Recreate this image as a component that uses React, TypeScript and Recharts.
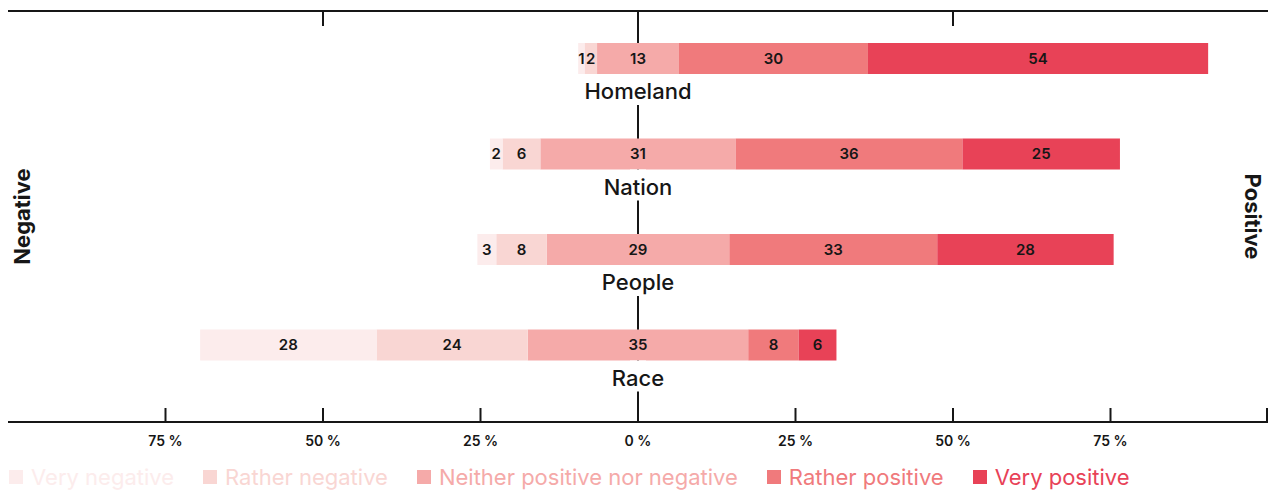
import React from "react";
import { BarChart, Bar, XAxis, YAxis, ReferenceLine, LabelList } from "recharts";

const categories = ["Homeland", "Nation", "People", "Race"];
const veryNegative = [1, 2, 3, 28];
const ratherNegative = [2, 6, 8, 24];
const neutral = [13, 31, 29, 35];
const ratherPositive = [30, 36, 33, 8];
const veryPositive = [54, 25, 28, 6];

const axisTicks = [-100, -75, -50, -25, 0, 25, 50, 75, 100];
const topTicks = [-50, 0, 50];

const FONT = "Inter, 'Noto Sans', sans-serif";
const INK = "#161616";

const COLORS = {
  veryNeg: "#fcecec",
  ratherNeg: "#f9d6d3",
  neutral: "#f5aaa9",
  ratherPos: "#f07a7c",
  veryPos: "#e84257",
};

const legendItems = [
  { label: "Very negative", color: COLORS.veryNeg },
  { label: "Rather negative", color: COLORS.ratherNeg },
  { label: "Neither positive nor negative", color: COLORS.neutral },
  { label: "Rather positive", color: COLORS.ratherPos },
  { label: "Very positive", color: COLORS.veryPos },
];

// neutral share is split evenly around zero so the bars diverge from the centre line
const rows = categories.map((category, i) => ({
  category,
  neutralNeg: -neutral[i] / 2,
  ratherNeg: -ratherNegative[i],
  veryNeg: -veryNegative[i],
  neutralPos: neutral[i] / 2,
  ratherPos: ratherPositive[i],
  veryPos: veryPositive[i],
}));

function box(props: any) {
  const vb = props.viewBox ?? props;
  return { x: Number(vb.x), y: Number(vb.y), width: Number(vb.width), height: Number(vb.height) };
}

const segmentLabel = (values: number[]) => (props: any) => {
  const { x, y, width, height } = box(props);
  const v = values[props.index];
  return (
    <text
      x={x + width / 2}
      y={y + height / 2}
      dy={5}
      textAnchor="middle"
      fontFamily={FONT}
      fontSize={15}
      fontWeight={600}
      fill={INK}
    >
      {v}
    </text>
  );
};

// neutral value sits on the zero line, with the category name under the bar
const neutralLabel = (props: any) => {
  const { x, y, height } = box(props);
  const i = props.index;
  return (
    <g>
      <text x={x} y={y + height / 2} dy={5} textAnchor="middle" fontFamily={FONT} fontSize={15} fontWeight={600} fill={INK}>
        {neutral[i]}
      </text>
      <rect x={x - 8} y={y + height} width={16} height={31} fill="#fff" />
      <text x={x} y={y + height + 25} textAnchor="middle" fontFamily={FONT} fontSize={22} fontWeight={500} fill={INK}>
        {categories[i]}
      </text>
    </g>
  );
};

function TopTick(props: any) {
  const { x, y } = props;
  return <line x1={x} x2={x} y1={y} y2={y + 15} stroke={INK} strokeWidth={2} />;
}

function BottomTick(props: any) {
  const { x, y, payload } = props;
  const v = payload.value as number;
  return (
    <g>
      <line x1={x} x2={x} y1={y - 14} y2={y} stroke={INK} strokeWidth={2} />
      {Math.abs(v) < 100 && (
        <text x={x} y={y + 24} textAnchor="middle" fontFamily={FONT} fontSize={14} fontWeight={600} fill={INK}>
          {`${Math.abs(v)} %`}
        </text>
      )}
    </g>
  );
}

function SideLabel(props: any) {
  const { text, side } = props;
  const { x, y, height } = box(props);
  const cx = side === "left" ? x + 15 : x - 15;
  const cy = y + height / 2;
  return (
    <text
      x={cx}
      y={cy}
      transform={`rotate(${side === "left" ? -90 : 90} ${cx} ${cy})`}
      textAnchor="middle"
      dominantBaseline="central"
      fontFamily={FONT}
      fontSize={22}
      fontWeight={700}
      fill={INK}
    >
      {text}
    </text>
  );
}

export default function App() {
  return (
    <div style={{ position: "absolute", left: 0, top: 0, width: 1279, height: 491, background: "#fff" }}>
      <BarChart
        width={1279}
        height={462}
        data={rows}
        layout="vertical"
        stackOffset="sign"
        barSize={31}
        margin={{ top: 10, right: 10, bottom: 0, left: 7 }}
      >
        <XAxis
          xAxisId="top"
          orientation="top"
          type="number"
          domain={[-100, 100]}
          allowDataOverflow
          ticks={topTicks}
          interval={0}
          height={1}
          tickSize={0}
          tickMargin={0}
          tickLine={false}
          tick={<TopTick />}
          axisLine={{ stroke: INK, strokeWidth: 2 }}
        />
        <XAxis
          xAxisId="bottom"
          orientation="bottom"
          type="number"
          domain={[-100, 100]}
          ticks={axisTicks}
          height={40}
          tickSize={0}
          tickMargin={0}
          tickLine={false}
          tick={<BottomTick />}
          axisLine={{ stroke: INK, strokeWidth: 2 }}
        />
        <YAxis
          yAxisId="cat"
          type="category"
          dataKey="category"
          width={1}
          axisLine={false}
          tickLine={false}
          tick={false}
          padding={{ top: 0, bottom: 29 }}
          label={<SideLabel text="Negative" side="left" />}
        />
        <YAxis
          yAxisId="side"
          orientation="right"
          type="category"
          dataKey="category"
          width={1}
          axisLine={false}
          tickLine={false}
          tick={false}
          label={<SideLabel text="Positive" side="right" />}
        />
        <ReferenceLine x={0} xAxisId="bottom" yAxisId="cat" stroke={INK} strokeWidth={2} zIndex={100} />
        <Bar dataKey="neutralNeg" stackId="s" xAxisId="bottom" yAxisId="cat" fill={COLORS.neutral} isAnimationActive={false} />
        <Bar dataKey="ratherNeg" stackId="s" xAxisId="bottom" yAxisId="cat" fill={COLORS.ratherNeg} isAnimationActive={false}>
          <LabelList dataKey="ratherNeg" content={segmentLabel(ratherNegative)} />
        </Bar>
        <Bar dataKey="veryNeg" stackId="s" xAxisId="bottom" yAxisId="cat" fill={COLORS.veryNeg} isAnimationActive={false}>
          <LabelList dataKey="veryNeg" content={segmentLabel(veryNegative)} />
        </Bar>
        <Bar dataKey="neutralPos" stackId="s" xAxisId="bottom" yAxisId="cat" fill={COLORS.neutral} isAnimationActive={false}>
          <LabelList dataKey="neutralPos" content={neutralLabel} />
        </Bar>
        <Bar dataKey="ratherPos" stackId="s" xAxisId="bottom" yAxisId="cat" fill={COLORS.ratherPos} isAnimationActive={false}>
          <LabelList dataKey="ratherPos" content={segmentLabel(ratherPositive)} />
        </Bar>
        <Bar dataKey="veryPos" stackId="s" xAxisId="bottom" yAxisId="cat" fill={COLORS.veryPos} isAnimationActive={false}>
          <LabelList dataKey="veryPos" content={segmentLabel(veryPositive)} />
        </Bar>
      </BarChart>
      <div
        style={{
          position: "absolute",
          left: 9,
          top: 462,
          height: 29,
          display: "flex",
          alignItems: "center",
          gap: 29,
          fontFamily: FONT,
          fontSize: 22,
          whiteSpace: "nowrap",
        }}
      >
        {legendItems.map((item) => (
          <div key={item.label} style={{ display: "flex", alignItems: "center", gap: 8, color: item.color }}>
            <span style={{ display: "inline-block", width: 14, height: 14, background: item.color }} />
            <span>{item.label}</span>
          </div>
        ))}
      </div>
    </div>
  );
}
